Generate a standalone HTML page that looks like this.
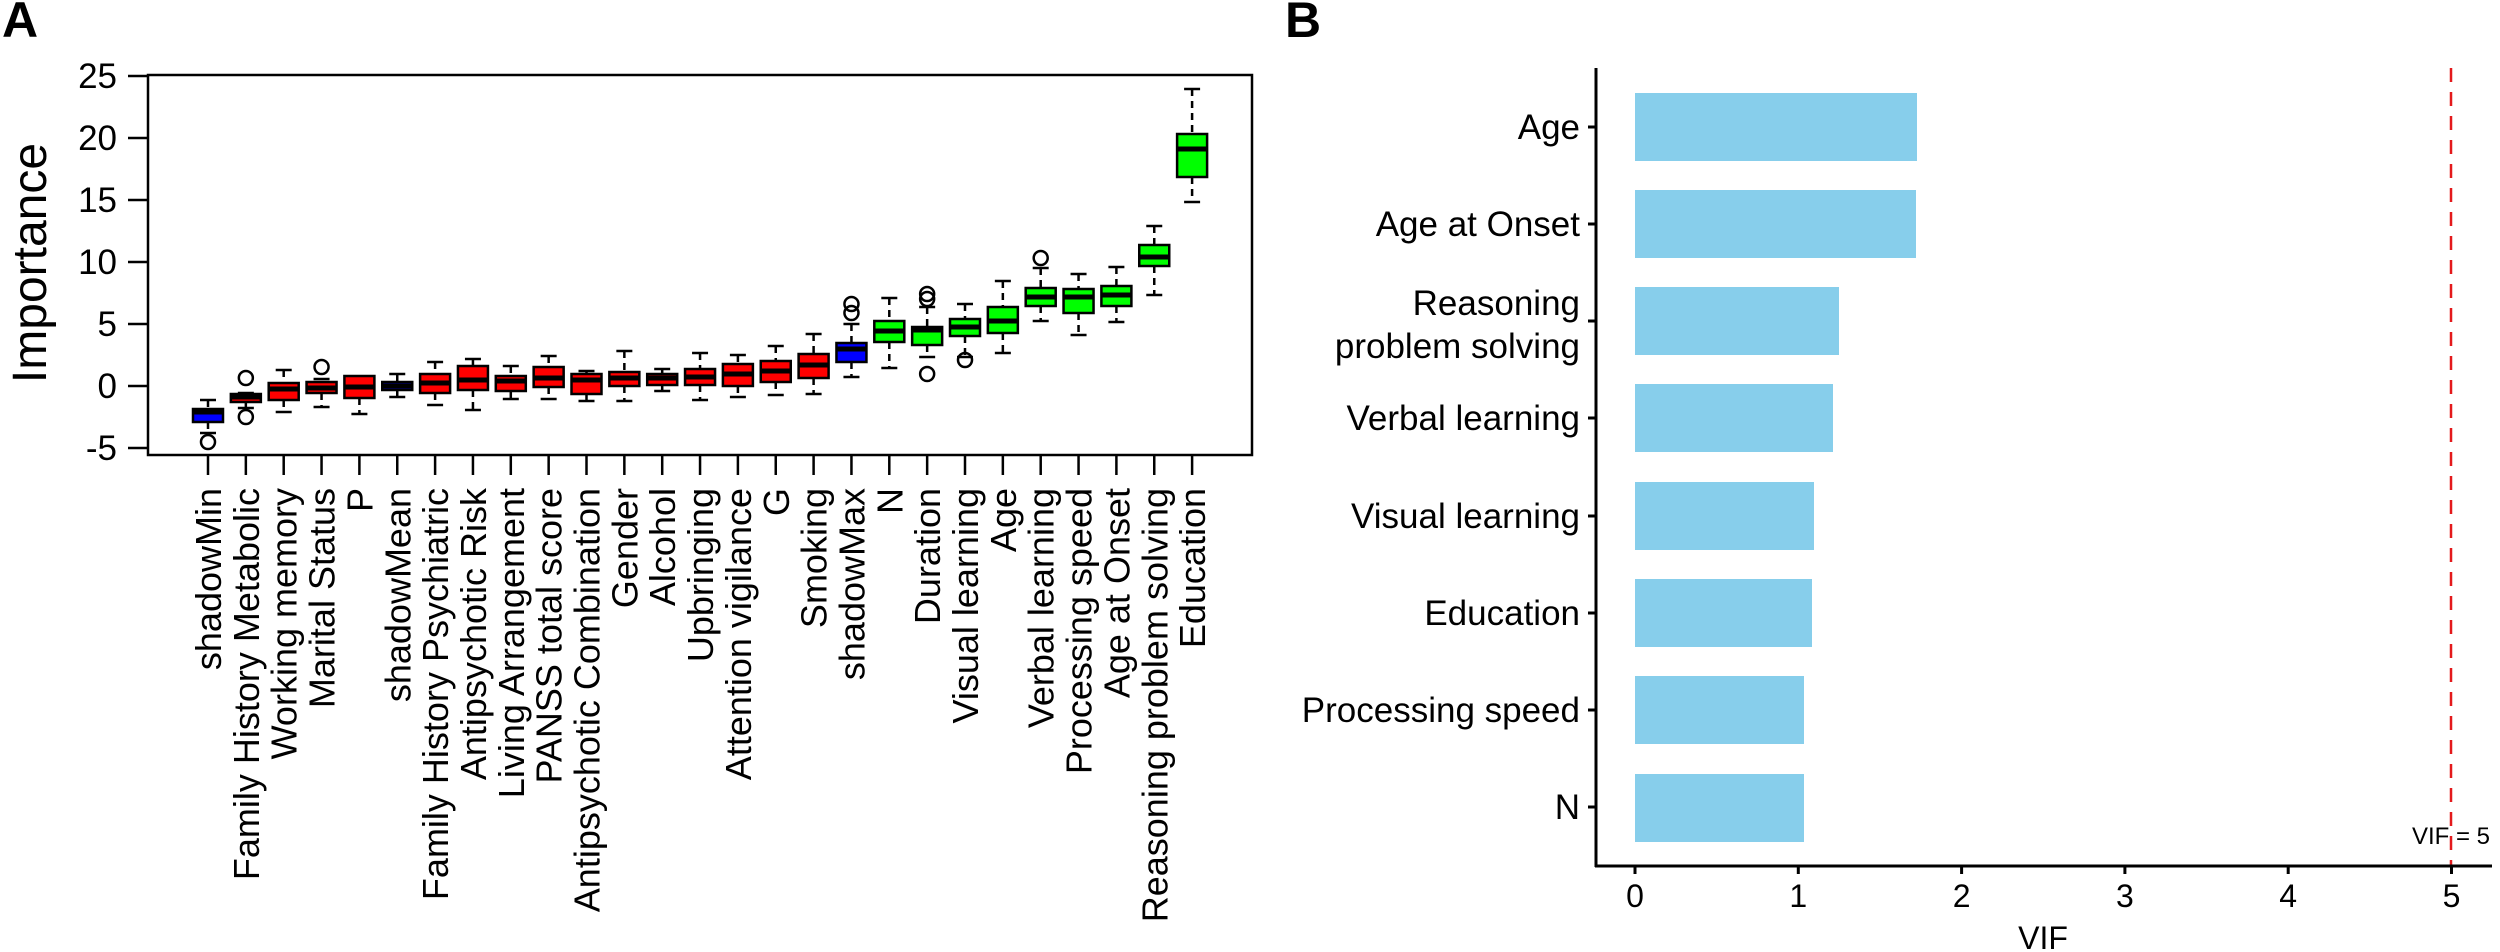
<!DOCTYPE html>
<html><head><meta charset="utf-8"><style>html,body{margin:0;padding:0;background:#fff}svg{display:block}</style></head><body>
<svg width="2500" height="952" viewBox="0 0 2500 952" xmlns="http://www.w3.org/2000/svg" font-family="Liberation Sans, Arial, sans-serif">
<rect width="2500" height="952" fill="#fff"/>
<text x="2" y="37" font-size="50" font-weight="bold">A</text>
<text x="1285" y="37" font-size="50" font-weight="bold">B</text>

<!-- Panel A axes -->
<rect x="148" y="75" width="1104" height="380" fill="none" stroke="#000" stroke-width="2.5"/>
<g stroke="#000" stroke-width="2.5">
<line x1="128" y1="76" x2="148" y2="76"/><line x1="128" y1="138" x2="148" y2="138"/><line x1="128" y1="200" x2="148" y2="200"/><line x1="128" y1="262" x2="148" y2="262"/><line x1="128" y1="324" x2="148" y2="324"/><line x1="128" y1="386" x2="148" y2="386"/><line x1="128" y1="448" x2="148" y2="448"/>
</g>
<g font-size="35" text-anchor="end">
<text x="117" y="88">25</text><text x="117" y="150">20</text><text x="117" y="212">15</text><text x="117" y="274">10</text><text x="117" y="336">5</text><text x="117" y="398">0</text><text x="117" y="460">-5</text>
</g>
<text transform="translate(46,263) rotate(-90)" font-size="48" text-anchor="middle">Importance</text>

<!-- x ticks -->
<g stroke="#000" stroke-width="2.5">
<line x1="208" y1="455" x2="208" y2="475"/><line x1="245.85" y1="455" x2="245.85" y2="475"/><line x1="283.7" y1="455" x2="283.7" y2="475"/><line x1="321.55" y1="455" x2="321.55" y2="475"/><line x1="359.4" y1="455" x2="359.4" y2="475"/><line x1="397.25" y1="455" x2="397.25" y2="475"/><line x1="435.1" y1="455" x2="435.1" y2="475"/><line x1="472.95" y1="455" x2="472.95" y2="475"/><line x1="510.8" y1="455" x2="510.8" y2="475"/><line x1="548.65" y1="455" x2="548.65" y2="475"/><line x1="586.5" y1="455" x2="586.5" y2="475"/><line x1="624.35" y1="455" x2="624.35" y2="475"/><line x1="662.2" y1="455" x2="662.2" y2="475"/><line x1="700.05" y1="455" x2="700.05" y2="475"/><line x1="737.9" y1="455" x2="737.9" y2="475"/><line x1="775.75" y1="455" x2="775.75" y2="475"/><line x1="813.6" y1="455" x2="813.6" y2="475"/><line x1="851.45" y1="455" x2="851.45" y2="475"/><line x1="889.3" y1="455" x2="889.3" y2="475"/><line x1="927.15" y1="455" x2="927.15" y2="475"/><line x1="965" y1="455" x2="965" y2="475"/><line x1="1002.85" y1="455" x2="1002.85" y2="475"/><line x1="1040.7" y1="455" x2="1040.7" y2="475"/><line x1="1078.55" y1="455" x2="1078.55" y2="475"/><line x1="1116.4" y1="455" x2="1116.4" y2="475"/><line x1="1154.25" y1="455" x2="1154.25" y2="475"/><line x1="1192.1" y1="455" x2="1192.1" y2="475"/>
</g>
<g font-size="36" text-anchor="end">
<text transform="translate(221,488) rotate(-90)">shadowMin</text>
<text transform="translate(258.85,488) rotate(-90)">Family History Metabolic</text>
<text transform="translate(296.7,488) rotate(-90)">Working memory</text>
<text transform="translate(334.55,488) rotate(-90)">Marital Status</text>
<text transform="translate(372.4,488) rotate(-90)">P</text>
<text transform="translate(410.25,488) rotate(-90)">shadowMean</text>
<text transform="translate(448.1,488) rotate(-90)">Family History Psychiatric</text>
<text transform="translate(485.95,488) rotate(-90)">Antipsychotic Risk</text>
<text transform="translate(523.8,488) rotate(-90)">Living Arrangement</text>
<text transform="translate(561.65,488) rotate(-90)">PANSS total score</text>
<text transform="translate(599.5,488) rotate(-90)">Antipsychotic Combination</text>
<text transform="translate(637.35,488) rotate(-90)">Gender</text>
<text transform="translate(675.2,488) rotate(-90)">Alcohol</text>
<text transform="translate(713.05,488) rotate(-90)">Upbringing</text>
<text transform="translate(750.9,488) rotate(-90)">Attention vigilance</text>
<text transform="translate(788.75,488) rotate(-90)">G</text>
<text transform="translate(826.6,488) rotate(-90)">Smoking</text>
<text transform="translate(864.45,488) rotate(-90)">shadowMax</text>
<text transform="translate(902.3,488) rotate(-90)">N</text>
<text transform="translate(940.15,488) rotate(-90)">Duration</text>
<text transform="translate(978,488) rotate(-90)">Visual learning</text>
<text transform="translate(1015.85,488) rotate(-90)">Age</text>
<text transform="translate(1053.7,488) rotate(-90)">Verbal learning</text>
<text transform="translate(1091.55,488) rotate(-90)">Processing speed</text>
<text transform="translate(1129.4,488) rotate(-90)">Age at Onset</text>
<text transform="translate(1167.25,488) rotate(-90)">Reasoning problem solving</text>
<text transform="translate(1205.1,488) rotate(-90)">Education</text>
</g>

<!-- boxes -->
<g stroke="#000" stroke-width="2.5">
<g transform="translate(208,0)"><line x1="0" y1="400" x2="0" y2="409" stroke-dasharray="7,5"/><line x1="0" y1="422" x2="0" y2="433" stroke-dasharray="7,5"/><line x1="-8" y1="400" x2="8" y2="400"/><line x1="-8" y1="433" x2="8" y2="433"/><rect x="-15" y="409" width="30" height="13" fill="#0000ff"/><line x1="-15" y1="412" x2="15" y2="412" stroke-width="5"/><circle cx="0" cy="442" r="7" fill="none"/></g>
<g transform="translate(245.85,0)"><line x1="-8" y1="393" x2="8" y2="393"/><line x1="0" y1="402" x2="0" y2="408" stroke-dasharray="7,5"/><line x1="-8" y1="408" x2="8" y2="408"/><rect x="-15" y="394" width="30" height="8" fill="#ff0000"/><line x1="-15" y1="397" x2="15" y2="397" stroke-width="5"/><circle cx="0" cy="378" r="7" fill="none"/><circle cx="0" cy="417" r="7" fill="none"/></g>
<g transform="translate(283.7,0)"><line x1="0" y1="370" x2="0" y2="383" stroke-dasharray="7,5"/><line x1="0" y1="400" x2="0" y2="412" stroke-dasharray="7,5"/><line x1="-8" y1="370" x2="8" y2="370"/><line x1="-8" y1="412" x2="8" y2="412"/><rect x="-15" y="383" width="30" height="17" fill="#ff0000"/><line x1="-15" y1="389" x2="15" y2="389" stroke-width="5"/></g>
<g transform="translate(321.55,0)"><line x1="-8" y1="379" x2="8" y2="379"/><line x1="0" y1="393" x2="0" y2="407" stroke-dasharray="7,5"/><line x1="-8" y1="407" x2="8" y2="407"/><rect x="-15" y="382" width="30" height="11" fill="#ff0000"/><line x1="-15" y1="388" x2="15" y2="388" stroke-width="5"/><circle cx="0" cy="367" r="7" fill="none"/></g>
<g transform="translate(359.4,0)"><line x1="0" y1="398" x2="0" y2="414" stroke-dasharray="7,5"/><line x1="-8" y1="414" x2="8" y2="414"/><rect x="-15" y="376" width="30" height="22" fill="#ff0000"/><line x1="-15" y1="387" x2="15" y2="387" stroke-width="5"/></g>
<g transform="translate(397.25,0)"><line x1="0" y1="374" x2="0" y2="382" stroke-dasharray="7,5"/><line x1="0" y1="390" x2="0" y2="397" stroke-dasharray="7,5"/><line x1="-8" y1="374" x2="8" y2="374"/><line x1="-8" y1="397" x2="8" y2="397"/><rect x="-15" y="382" width="30" height="8" fill="#0000ff"/><line x1="-15" y1="386" x2="15" y2="386" stroke-width="5"/></g>
<g transform="translate(435.1,0)"><line x1="0" y1="362" x2="0" y2="374" stroke-dasharray="7,5"/><line x1="0" y1="393" x2="0" y2="405" stroke-dasharray="7,5"/><line x1="-8" y1="362" x2="8" y2="362"/><line x1="-8" y1="405" x2="8" y2="405"/><rect x="-15" y="374" width="30" height="19" fill="#ff0000"/><line x1="-15" y1="383" x2="15" y2="383" stroke-width="5"/></g>
<g transform="translate(472.95,0)"><line x1="0" y1="359" x2="0" y2="366" stroke-dasharray="7,5"/><line x1="0" y1="390" x2="0" y2="410" stroke-dasharray="7,5"/><line x1="-8" y1="359" x2="8" y2="359"/><line x1="-8" y1="410" x2="8" y2="410"/><rect x="-15" y="366" width="30" height="24" fill="#ff0000"/><line x1="-15" y1="380" x2="15" y2="380" stroke-width="5"/></g>
<g transform="translate(510.8,0)"><line x1="0" y1="366" x2="0" y2="376" stroke-dasharray="7,5"/><line x1="0" y1="391" x2="0" y2="399" stroke-dasharray="7,5"/><line x1="-8" y1="366" x2="8" y2="366"/><line x1="-8" y1="399" x2="8" y2="399"/><rect x="-15" y="376" width="30" height="15" fill="#ff0000"/><line x1="-15" y1="381" x2="15" y2="381" stroke-width="5"/></g>
<g transform="translate(548.65,0)"><line x1="0" y1="356" x2="0" y2="367" stroke-dasharray="7,5"/><line x1="0" y1="387" x2="0" y2="399" stroke-dasharray="7,5"/><line x1="-8" y1="356" x2="8" y2="356"/><line x1="-8" y1="399" x2="8" y2="399"/><rect x="-15" y="367" width="30" height="20" fill="#ff0000"/><line x1="-15" y1="378" x2="15" y2="378" stroke-width="5"/></g>
<g transform="translate(586.5,0)"><line x1="0" y1="371" x2="0" y2="374" stroke-dasharray="7,5"/><line x1="0" y1="394" x2="0" y2="401" stroke-dasharray="7,5"/><line x1="-8" y1="371" x2="8" y2="371"/><line x1="-8" y1="401" x2="8" y2="401"/><rect x="-15" y="374" width="30" height="20" fill="#ff0000"/><line x1="-15" y1="380" x2="15" y2="380" stroke-width="5"/></g>
<g transform="translate(624.35,0)"><line x1="0" y1="351" x2="0" y2="372" stroke-dasharray="7,5"/><line x1="0" y1="386" x2="0" y2="401" stroke-dasharray="7,5"/><line x1="-8" y1="351" x2="8" y2="351"/><line x1="-8" y1="401" x2="8" y2="401"/><rect x="-15" y="372" width="30" height="14" fill="#ff0000"/><line x1="-15" y1="378" x2="15" y2="378" stroke-width="5"/></g>
<g transform="translate(662.2,0)"><line x1="0" y1="369" x2="0" y2="374" stroke-dasharray="7,5"/><line x1="0" y1="385" x2="0" y2="391" stroke-dasharray="7,5"/><line x1="-8" y1="369" x2="8" y2="369"/><line x1="-8" y1="391" x2="8" y2="391"/><rect x="-15" y="374" width="30" height="11" fill="#ff0000"/><line x1="-15" y1="378" x2="15" y2="378" stroke-width="5"/></g>
<g transform="translate(700.05,0)"><line x1="0" y1="353" x2="0" y2="369" stroke-dasharray="7,5"/><line x1="0" y1="385" x2="0" y2="400" stroke-dasharray="7,5"/><line x1="-8" y1="353" x2="8" y2="353"/><line x1="-8" y1="400" x2="8" y2="400"/><rect x="-15" y="369" width="30" height="16" fill="#ff0000"/><line x1="-15" y1="377" x2="15" y2="377" stroke-width="5"/></g>
<g transform="translate(737.9,0)"><line x1="0" y1="355" x2="0" y2="364" stroke-dasharray="7,5"/><line x1="0" y1="386" x2="0" y2="397" stroke-dasharray="7,5"/><line x1="-8" y1="355" x2="8" y2="355"/><line x1="-8" y1="397" x2="8" y2="397"/><rect x="-15" y="364" width="30" height="22" fill="#ff0000"/><line x1="-15" y1="374" x2="15" y2="374" stroke-width="5"/></g>
<g transform="translate(775.75,0)"><line x1="0" y1="346" x2="0" y2="361" stroke-dasharray="7,5"/><line x1="0" y1="382" x2="0" y2="395" stroke-dasharray="7,5"/><line x1="-8" y1="346" x2="8" y2="346"/><line x1="-8" y1="395" x2="8" y2="395"/><rect x="-15" y="361" width="30" height="21" fill="#ff0000"/><line x1="-15" y1="371" x2="15" y2="371" stroke-width="5"/></g>
<g transform="translate(813.6,0)"><line x1="0" y1="334" x2="0" y2="354" stroke-dasharray="7,5"/><line x1="0" y1="378" x2="0" y2="394" stroke-dasharray="7,5"/><line x1="-8" y1="334" x2="8" y2="334"/><line x1="-8" y1="394" x2="8" y2="394"/><rect x="-15" y="354" width="30" height="24" fill="#ff0000"/><line x1="-15" y1="365" x2="15" y2="365" stroke-width="5"/></g>
<g transform="translate(851.45,0)"><line x1="0" y1="324" x2="0" y2="343" stroke-dasharray="7,5"/><line x1="0" y1="362" x2="0" y2="377" stroke-dasharray="7,5"/><line x1="-8" y1="324" x2="8" y2="324"/><line x1="-8" y1="377" x2="8" y2="377"/><rect x="-15" y="343" width="30" height="19" fill="#0000ff"/><line x1="-15" y1="349" x2="15" y2="349" stroke-width="5"/><circle cx="0" cy="304" r="7" fill="none"/><circle cx="0" cy="313" r="7" fill="none"/></g>
<g transform="translate(889.3,0)"><line x1="0" y1="298" x2="0" y2="321" stroke-dasharray="7,5"/><line x1="0" y1="342" x2="0" y2="368" stroke-dasharray="7,5"/><line x1="-8" y1="298" x2="8" y2="298"/><line x1="-8" y1="368" x2="8" y2="368"/><rect x="-15" y="321" width="30" height="21" fill="#00ff00"/><line x1="-15" y1="331" x2="15" y2="331" stroke-width="5"/></g>
<g transform="translate(927.15,0)"><line x1="0" y1="307" x2="0" y2="327" stroke-dasharray="7,5"/><line x1="0" y1="345" x2="0" y2="357" stroke-dasharray="7,5"/><line x1="-8" y1="307" x2="8" y2="307"/><line x1="-8" y1="357" x2="8" y2="357"/><rect x="-15" y="327" width="30" height="18" fill="#00ff00"/><line x1="-15" y1="330" x2="15" y2="330" stroke-width="5"/><circle cx="0" cy="294" r="7" fill="none"/><circle cx="0" cy="299" r="7" fill="none"/><circle cx="0" cy="374" r="7" fill="none"/></g>
<g transform="translate(965,0)"><line x1="0" y1="304" x2="0" y2="319" stroke-dasharray="7,5"/><line x1="0" y1="336" x2="0" y2="357" stroke-dasharray="7,5"/><line x1="-8" y1="304" x2="8" y2="304"/><line x1="-8" y1="357" x2="8" y2="357"/><rect x="-15" y="319" width="30" height="17" fill="#00ff00"/><line x1="-15" y1="327" x2="15" y2="327" stroke-width="5"/><circle cx="0" cy="360" r="7" fill="none"/></g>
<g transform="translate(1002.85,0)"><line x1="0" y1="281" x2="0" y2="307" stroke-dasharray="7,5"/><line x1="0" y1="333" x2="0" y2="353" stroke-dasharray="7,5"/><line x1="-8" y1="281" x2="8" y2="281"/><line x1="-8" y1="353" x2="8" y2="353"/><rect x="-15" y="307" width="30" height="26" fill="#00ff00"/><line x1="-15" y1="321" x2="15" y2="321" stroke-width="5"/></g>
<g transform="translate(1040.7,0)"><line x1="0" y1="268" x2="0" y2="288" stroke-dasharray="7,5"/><line x1="0" y1="306" x2="0" y2="321" stroke-dasharray="7,5"/><line x1="-8" y1="268" x2="8" y2="268"/><line x1="-8" y1="321" x2="8" y2="321"/><rect x="-15" y="288" width="30" height="18" fill="#00ff00"/><line x1="-15" y1="297" x2="15" y2="297" stroke-width="5"/><circle cx="0" cy="258" r="7" fill="none"/></g>
<g transform="translate(1078.55,0)"><line x1="0" y1="274" x2="0" y2="289" stroke-dasharray="7,5"/><line x1="0" y1="313" x2="0" y2="335" stroke-dasharray="7,5"/><line x1="-8" y1="274" x2="8" y2="274"/><line x1="-8" y1="335" x2="8" y2="335"/><rect x="-15" y="289" width="30" height="24" fill="#00ff00"/><line x1="-15" y1="297" x2="15" y2="297" stroke-width="5"/></g>
<g transform="translate(1116.4,0)"><line x1="0" y1="267" x2="0" y2="286" stroke-dasharray="7,5"/><line x1="0" y1="306" x2="0" y2="322" stroke-dasharray="7,5"/><line x1="-8" y1="267" x2="8" y2="267"/><line x1="-8" y1="322" x2="8" y2="322"/><rect x="-15" y="286" width="30" height="20" fill="#00ff00"/><line x1="-15" y1="295" x2="15" y2="295" stroke-width="5"/></g>
<g transform="translate(1154.25,0)"><line x1="0" y1="226" x2="0" y2="245" stroke-dasharray="7,5"/><line x1="0" y1="266" x2="0" y2="295" stroke-dasharray="7,5"/><line x1="-8" y1="226" x2="8" y2="226"/><line x1="-8" y1="295" x2="8" y2="295"/><rect x="-15" y="245" width="30" height="21" fill="#00ff00"/><line x1="-15" y1="257" x2="15" y2="257" stroke-width="5"/></g>
<g transform="translate(1192.1,0)"><line x1="0" y1="89" x2="0" y2="134" stroke-dasharray="7,5"/><line x1="0" y1="177" x2="0" y2="202" stroke-dasharray="7,5"/><line x1="-8" y1="89" x2="8" y2="89"/><line x1="-8" y1="202" x2="8" y2="202"/><rect x="-15" y="134" width="30" height="43" fill="#00ff00"/><line x1="-15" y1="149" x2="15" y2="149" stroke-width="5"/></g>
</g>

<!-- Panel B -->
<g fill="#87ceeb">
<rect x="1635" y="93" width="282" height="68"/>
<rect x="1635" y="190" width="281" height="68"/>
<rect x="1635" y="287" width="204" height="68"/>
<rect x="1635" y="384" width="198" height="68"/>
<rect x="1635" y="482" width="179" height="68"/>
<rect x="1635" y="579" width="177" height="68"/>
<rect x="1635" y="676" width="169" height="68"/>
<rect x="1635" y="774" width="169" height="68"/>
</g>
<line x1="2451" y1="68" x2="2451" y2="866" stroke="#e41a1c" stroke-width="2.5" stroke-dasharray="14,10"/>
<g stroke="#000" stroke-width="3">
<line x1="1596" y1="68" x2="1596" y2="867"/>
<line x1="1595" y1="866" x2="2492" y2="866"/>
<line x1="1588" y1="127" x2="1596" y2="127"/><line x1="1588" y1="224" x2="1596" y2="224"/><line x1="1588" y1="321" x2="1596" y2="321"/><line x1="1588" y1="418" x2="1596" y2="418"/><line x1="1588" y1="516" x2="1596" y2="516"/><line x1="1588" y1="613" x2="1596" y2="613"/><line x1="1588" y1="710" x2="1596" y2="710"/><line x1="1588" y1="807" x2="1596" y2="807"/>
<line x1="1635" y1="866" x2="1635" y2="874"/><line x1="1798.3" y1="866" x2="1798.3" y2="874"/><line x1="1961.6" y1="866" x2="1961.6" y2="874"/><line x1="2124.9" y1="866" x2="2124.9" y2="874"/><line x1="2288.2" y1="866" x2="2288.2" y2="874"/><line x1="2451.5" y1="866" x2="2451.5" y2="874"/>
</g>
<g font-size="35" text-anchor="end">
<text x="1580" y="139">Age</text>
<text x="1580" y="236">Age at Onset</text>
<text x="1580" y="315">Reasoning</text>
<text x="1580" y="358">problem solving</text>
<text x="1580" y="430">Verbal learning</text>
<text x="1580" y="528">Visual learning</text>
<text x="1580" y="625">Education</text>
<text x="1580" y="722">Processing speed</text>
<text x="1580" y="819">N</text>
</g>
<g font-size="32" text-anchor="middle">
<text x="1635" y="907">0</text><text x="1798.3" y="907">1</text><text x="1961.6" y="907">2</text><text x="2124.9" y="907">3</text><text x="2288.2" y="907">4</text><text x="2451.5" y="907">5</text>
<text x="2043" y="949">VIF</text>
</g>
<text x="2451" y="844" font-size="24" text-anchor="middle">VIF = 5</text>
</svg>
</body></html>
